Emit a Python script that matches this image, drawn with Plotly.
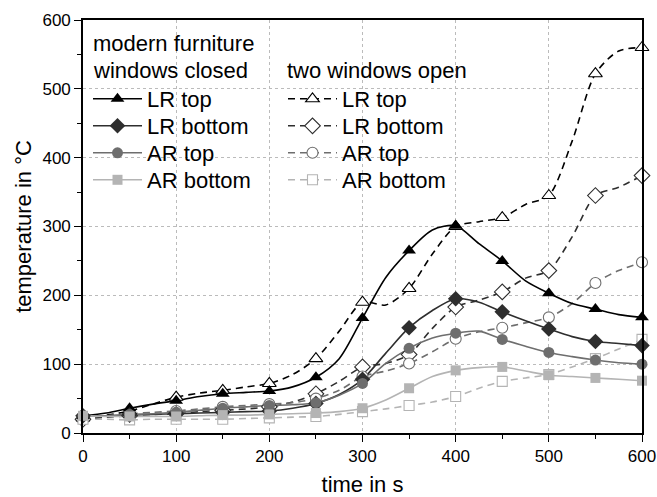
import plotly.graph_objects as go

time_s = [0, 25, 50, 75, 100, 125, 150, 175, 200, 225, 250, 275, 300,
          325, 350, 375, 400, 425, 450, 475, 500, 525, 550, 575, 600]

# modern furniture, windows closed
lr_top_closed = [25, 29, 36, 42, 47, 53, 57, 59, 61, 67, 81, 108, 167,
                 226, 265, 295, 301, 275, 250, 221, 203, 188, 180, 172, 168]
lr_bottom_closed = [25, 25, 26, 27, 28, 29, 30, 31, 32, 36, 43, 56, 78,
                    116, 153, 178, 195, 190, 176, 163, 151, 140, 133, 130, 127]
ar_top_closed = [25, 25, 27, 28, 30, 33, 36, 38, 40, 41, 44, 55, 72,
                 101, 123, 138, 145, 148, 136, 126, 117, 111, 106, 102, 100]
ar_bottom_closed = [25, 24, 24, 24, 24, 25, 26, 26, 27, 28, 29, 31, 36,
                    48, 65, 82, 91, 95, 96, 90, 84, 82, 80, 78, 76]

# two windows open
lr_top_open = [22, 26, 32, 42, 52, 58, 62, 67, 72, 85, 108, 148, 190,
               186, 210, 260, 300, 307, 313, 332, 345, 424, 522, 555, 560]
lr_bottom_open = [20, 23, 25, 27, 28, 31, 33, 35, 38, 45, 57, 75, 96,
                  101, 114, 152, 183, 193, 205, 225, 236, 285, 345, 357, 374]
ar_top_open = [22, 25, 28, 30, 32, 35, 38, 40, 42, 44, 50, 62, 82,
               90, 101, 118, 137, 147, 153, 160, 168, 188, 218, 236, 248]
ar_bottom_open = [20, 20, 19, 20, 20, 20, 20, 21, 22, 23, 24, 27, 31,
                  35, 40, 45, 53, 65, 75, 80, 85, 96, 108, 122, 136]

labels = ["LR top", "LR bottom", "AR top", "AR bottom"]
closed_title = ["modern furniture", "windows closed"]
open_title = "two windows open"
x_ticks = [0, 100, 200, 300, 400, 500, 600]
y_ticks = [0, 100, 200, 300, 400, 500, 600]

colors = ["#000000", "#2e2e2e", "#6e6e6e", "#b4b4b4"]
symbols = ["triangle-up", "diamond", "circle", "square"]
msizes = [12, 12, 11, 10]

closed = [lr_top_closed, lr_bottom_closed, ar_top_closed, ar_bottom_closed]
opened = [lr_top_open, lr_bottom_open, ar_top_open, ar_bottom_open]

FONT = "Liberation Sans, Arial, sans-serif"
DASH = "7px,5px"
fig = go.Figure()

mx = time_s[::2]
for series, dash in [(opened, DASH), (closed, "solid")]:
    for i, ys in enumerate(series):
        fig.add_trace(go.Scatter(
            x=time_s, y=ys, mode="lines", showlegend=False, hoverinfo="skip",
            line=dict(color=colors[i], width=1.6, dash=dash, shape="spline", smoothing=0.8),
        ))
for series, filled in [(opened, False), (closed, True)]:
    for i, ys in enumerate(series):
        fig.add_trace(go.Scatter(
            x=mx, y=ys[::2], mode="markers", showlegend=False, cliponaxis=False,
            marker=dict(symbol=symbols[i], size=msizes[i],
                        color=colors[i] if filled else "white",
                        line=dict(color=colors[i], width=0 if filled else 1.1)),
        ))

W, H = 657, 497
L, R, T, B = 83, 642, 20, 433
def py(pix):
    return (B - pix) / float(B - T)
def px(pix):
    return (pix - L) / float(R - L)

row_y = [99, 126, 153, 180]
legend_layout = {}
idx = 0
for series, dash, filled, lx in [(closed, "solid", True, 88), (opened, DASH, False, 283)]:
    for i in range(4):
        name = "legend" if idx == 0 else f"legend{idx + 1}"
        fig.add_trace(go.Scatter(
            x=[None], y=[None], mode="lines+markers", name=labels[i], legend=name,
            line=dict(color=colors[i], width=1.6, dash=dash),
            marker=dict(symbol=symbols[i], size=msizes[i],
                        color=colors[i] if filled else "white",
                        line=dict(color=colors[i], width=0 if filled else 1.1)),
        ))
        legend_layout[name] = dict(
            x=px(lx), y=py(row_y[i]), xanchor="left", yanchor="middle",
            bgcolor="rgba(0,0,0,0)", borderwidth=0, itemwidth=49,
            font=dict(family=FONT, size=22, color="black"),
        )
        idx += 1

fig.update_layout(**legend_layout)

annotations = [
    dict(text=closed_title[0], x=px(91), y=py(43), xref="paper", yref="paper",
         xanchor="left", yanchor="middle", showarrow=False,
         font=dict(family=FONT, size=22, color="black")),
    dict(text=closed_title[1], x=px(91), y=py(71), xref="paper", yref="paper",
         xanchor="left", yanchor="middle", showarrow=False,
         font=dict(family=FONT, size=22, color="black")),
    dict(text=open_title, x=px(285), y=py(71), xref="paper", yref="paper",
         xanchor="left", yanchor="middle", showarrow=False,
         font=dict(family=FONT, size=22, color="black")),
]

axis_common = dict(
    showline=True, linecolor="black", linewidth=1.6, mirror=True,
    ticks="outside", ticklen=7, tickwidth=1.4, tickcolor="black",
    showgrid=True, gridcolor="#bbbbbb", griddash="dot", gridwidth=1,
    zeroline=False, tickfont=dict(family=FONT, size=17, color="black"),
    automargin=False,
    minor=dict(dtick=50, ticks="outside", ticklen=4, tickwidth=1.2, tickcolor="black", showgrid=False),
)

fig.update_layout(
    width=W, height=H,
    margin=dict(l=L, r=W - R, t=T, b=H - B, autoexpand=False),
    paper_bgcolor="white", plot_bgcolor="white",
    annotations=annotations,
    xaxis=dict(range=[0, 600], tickvals=x_ticks, ticktext=[str(v) for v in x_ticks],
               title=dict(text="time in s", font=dict(family=FONT, size=22, color="black"), standoff=17),
               **axis_common),
    yaxis=dict(range=[0, 600], tickvals=y_ticks, ticktext=[str(v) for v in y_ticks],
               title=dict(text="temperature in °C", font=dict(family=FONT, size=22, color="black"), standoff=5),
               **axis_common),
)

# remove the default 8px page margin so the 657x497 figure fills the window exactly
fig.write_html("out.html", config={"displayModeBar": False},
               post_script="document.body.style.margin='0px';document.body.style.overflow='hidden';")
